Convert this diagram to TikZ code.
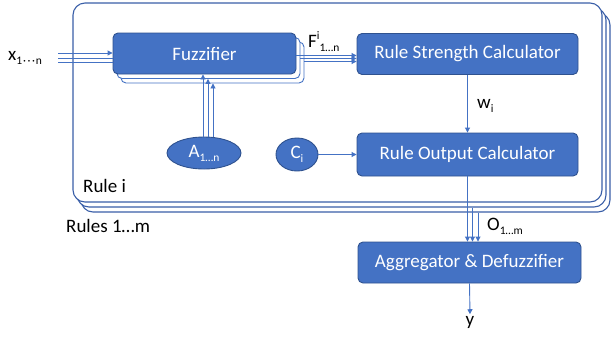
\documentclass[tikz,border=0pt]{standalone}
\usepackage{fontspec}
\setmainfont{Carlito}
\usetikzlibrary{shapes.geometric,arrows.meta,calc}
\definecolor{boxblue}{HTML}{4472C4}
\definecolor{edgeblue}{HTML}{2F528F}
\definecolor{lineblue}{HTML}{4472C4}
\definecolor{framecol}{HTML}{3A5FA8}
\newcommand{\lowtxt}[1]{\raisebox{-0.45ex}{\fontsize{11.5}{11.5}\selectfont #1}}
\newcommand{\hightxt}[1]{\raisebox{0.85ex}{\fontsize{11.5}{11.5}\selectfont #1}}
\tikzset{
  bigfont/.style={font=\fontsize{19}{22}\selectfont},
  block/.style={draw=edgeblue, line width=0.9pt, fill=boxblue, rounded corners=5pt,
    text=white, minimum width=#1, minimum height=41pt, inner sep=0pt, bigfont},
  ghost/.style={draw=lineblue, line width=0.9pt, fill=white, rounded corners=5pt,
    minimum width=183pt, minimum height=41pt, inner sep=0pt},
  frame/.style={draw=framecol, line width=1.1pt, fill=white, rounded corners=12pt,
    minimum width=529pt, minimum height=199pt, inner sep=0pt},
  oval/.style={ellipse, draw=edgeblue, line width=0.9pt, fill=boxblue, text=white,
    inner sep=0pt, bigfont},
  lbl/.style={inner sep=0pt, text=black, bigfont},
  wire/.style={draw=lineblue, line width=0.9pt},
  arr/.style={wire, -{Triangle[length=5pt,width=5pt]}},
}
\begin{document}
\begin{tikzpicture}[x=1pt,y=-1pt]
\useasboundingbox (0,0) rectangle (611,341);

% stacked rule frames, back to front
\node[frame] (rule3) at (345.5,112.5) {};
\node[frame] (rule2) at (341.5,107.5) {};
\node[frame] (rule)  at (337.5,102.5) {};

% labels
\node[lbl, anchor=base west] (rulei)  at (83,192.5) {Rule i};
\node[lbl, anchor=base west] (rules)  at (66,232) {Rules 1…m};
\node[lbl, anchor=base west] (xlab)   at (8,60) {x\lowtxt{1\kern1pt·\kern1.5pt·\kern1.5pt·\kern1pt n}};
\node[lbl, anchor=base west] (flab)   at (308,47) {F\hightxt{i}\lowtxt{1…n}};
\node[lbl, anchor=base west] (wlab)   at (477,108) {w\lowtxt{i}};
\node[lbl, anchor=base west] (olab)   at (487,230) {O\lowtxt{1…m}};

% input coordinates
\coordinate (xin1) at (58,53);
\coordinate (xin2) at (58,58);
\coordinate (xin3) at (58,62.5);

% fuzzifier stack
\node[ghost] (fz3) at (212.5,62.5) {};
\node[ghost] (fz2) at (208.5,58) {};
\node[block=183pt] (fz) at (204.5,53.5) {Fuzzifier};
\draw[arr] (xin1) -- (xin1 -| fz.west);
% the lower two inputs run on under the front box
\draw[wire] (xin2) -- (xin2 -| fz.west);
\draw[wire] (xin3) -- (xin3 -| fz.west);

% processing blocks
\node[block=221pt] (rsc) at (467.5,54) {Rule Strength Calculator};
\node[block=221pt, minimum height=43pt] (roc) at (467.5,154.5) {Rule Output Calculator};
\node[block=223pt] (agg) at (469.5,262.5) {Aggregator \& Defuzzifier};

% parameter ovals
\node[oval, minimum width=74pt, minimum height=32pt] (A) at (204,153) {A\lowtxt{1…n}};
\node[oval, minimum width=42pt, minimum height=33pt] (C) at (297,154.5) {C\lowtxt{i}};

\node[lbl, inner sep=1.5pt] (ylab) at (470,322) {y};

% connectors
\draw[arr] ([xshift=-1pt]A.north) -- ([xshift=-1pt]A.north |- fz.south);
\draw[arr] ([xshift=4pt]A.north)  -- ([xshift=4pt]A.north |- fz2.south);
\draw[arr] ([xshift=9pt]A.north)  -- ([xshift=9pt]A.north |- fz3.south);

\draw[arr] ([yshift=-2pt]fz.east)    -- ([yshift=-2pt]fz.east -| rsc.west);
\draw[arr] ([yshift=-0.5pt]fz2.east) -- ([yshift=-0.5pt]fz2.east -| rsc.west);
\draw[arr] ([yshift=1pt]fz3.east)    -- ([yshift=1pt]fz3.east -| rsc.west);

\draw[arr] (rsc.south) -- (roc.north);
\draw[arr] (C.east) -- (C.east -| roc.west);

\draw[arr] (roc.south) -- (roc.south |- agg.north);
\draw[arr] ([xshift=5pt]roc.south |- rule2.south) -- ([xshift=5pt]roc.south |- agg.north);
\draw[arr] ([xshift=10.5pt]roc.south |- rule3.south) -- ([xshift=10.5pt]roc.south |- agg.north);

\draw[arr] (agg.south) -- (ylab.north);
\end{tikzpicture}
\end{document}
